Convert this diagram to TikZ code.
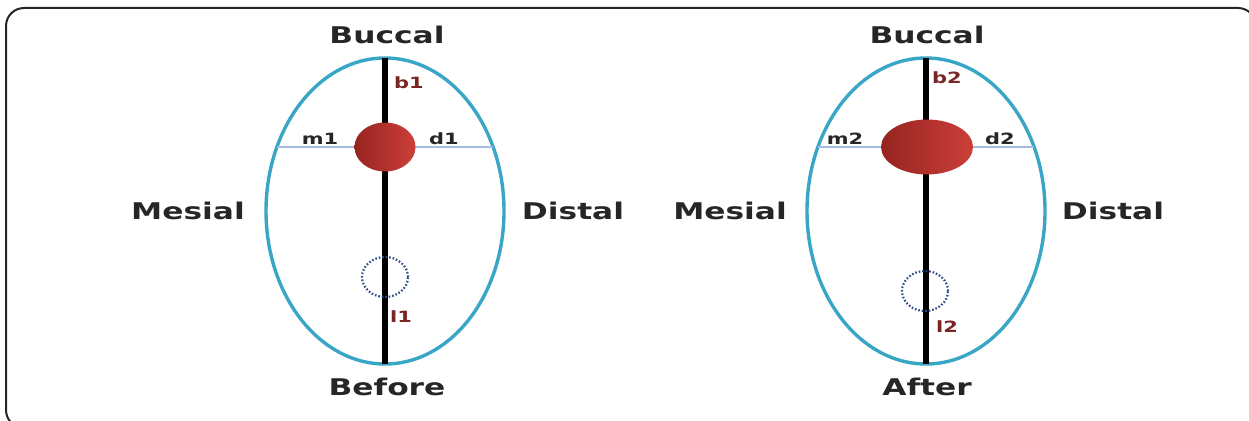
\documentclass[tikz,border=0pt]{standalone}
\usepackage{fontspec}
\usetikzlibrary{shapes.geometric}
\newfontfamily\bigf[FakeStretch=1.36]{DejaVu Sans Bold}
\newfontfamily\smf[FakeStretch=1.35]{DejaVu Sans Bold}
\definecolor{ring}{HTML}{3AA6C6}
\definecolor{hline}{HTML}{A4BCE2}
\definecolor{lab}{HTML}{262626}
\definecolor{dred}{HTML}{7A2424}
\definecolor{dotc}{HTML}{2E4C86}
\definecolor{redA}{HTML}{962420}
\definecolor{redB}{HTML}{CC3F3A}
\tikzset{
  tooth/.style={ellipse, draw=ring, line width=3.4pt, minimum width=238pt, minimum height=306pt, inner sep=0pt, outer sep=0pt},
  axisline/.style={line width=6pt, black},
  hbar/.style={line width=1.8pt, hline},
  dot/.style={ellipse, draw=dotc, line width=2.2pt, dash pattern=on 1.6pt off 1.9pt, inner sep=0pt},
  spot/.style={ellipse, inner sep=0pt, left color=redA, right color=redB, shading angle=90},
  big/.style={font=\bigf\fontsize{23}{26}\selectfont, text=lab, inner sep=0pt},
  sml/.style={font=\smf\fontsize{15.5}{17}\selectfont, inner sep=0pt},
}
\begin{document}
\begin{tikzpicture}[x=1pt,y=-1pt]
\useasboundingbox (0,0) rectangle (1249,420);
\begin{scope}
\clip (0,0) rectangle (1249,420);
\draw[line width=2pt, color=lab, rounded corners=18pt] (6,8) rectangle (1256,428);
\end{scope}
% ---------- Before ----------
\node[tooth] (E1) at (385,211) {};
\coordinate (ml1) at (277,147);
\coordinate (mr1) at (493,147);
\draw[hbar] (ml1) -- (mr1);
\draw[axisline] (E1.north) -- (E1.south);
\node[spot, minimum width=61pt, minimum height=49pt] (R1) at (385,147) {};
\node[dot, minimum width=46pt, minimum height=40pt] (C1) at (385,277) {};
\node[sml, text=lab] (m1) at (320,139) {m1};
\node[sml, text=lab] (d1) at (444,139) {d1};
\node[sml, text=dred] (b1) at (409,83) {b1};
\node[sml, text=dred] (l1) at (401,317) {l1};
\node[big] (bu1) at (387,35) {Buccal};
\node[big] (be1) at (387,387) {Before};
\node[big] (me1) at (188,211) {Mesial};
\node[big] (di1) at (573,211) {Distal};
% ---------- After ----------
\node[tooth] (E2) at (926,211) {};
\coordinate (ml2) at (818,147);
\coordinate (mr2) at (1034,147);
\draw[hbar] (ml2) -- (mr2);
\draw[axisline] (E2.north) -- (E2.south);
\node[spot, minimum width=92pt, minimum height=55pt] (R2) at (927,147) {};
\node[dot, minimum width=46pt, minimum height=40pt] (C2) at (925,291) {};
\node[sml, text=lab] (m2) at (845,139) {m2};
\node[sml, text=lab] (d2) at (1000,139) {d2};
\node[sml, text=dred] (b2) at (947,78) {b2};
\node[sml, text=dred] (l2) at (947,327) {l2};
\node[big] (bu2) at (927,35) {Buccal};
\node[big] (af2) at (927,387) {After};
\node[big] (me2) at (730,211) {Mesial};
\node[big] (di2) at (1113,211) {Distal};
\end{tikzpicture}
\end{document}
